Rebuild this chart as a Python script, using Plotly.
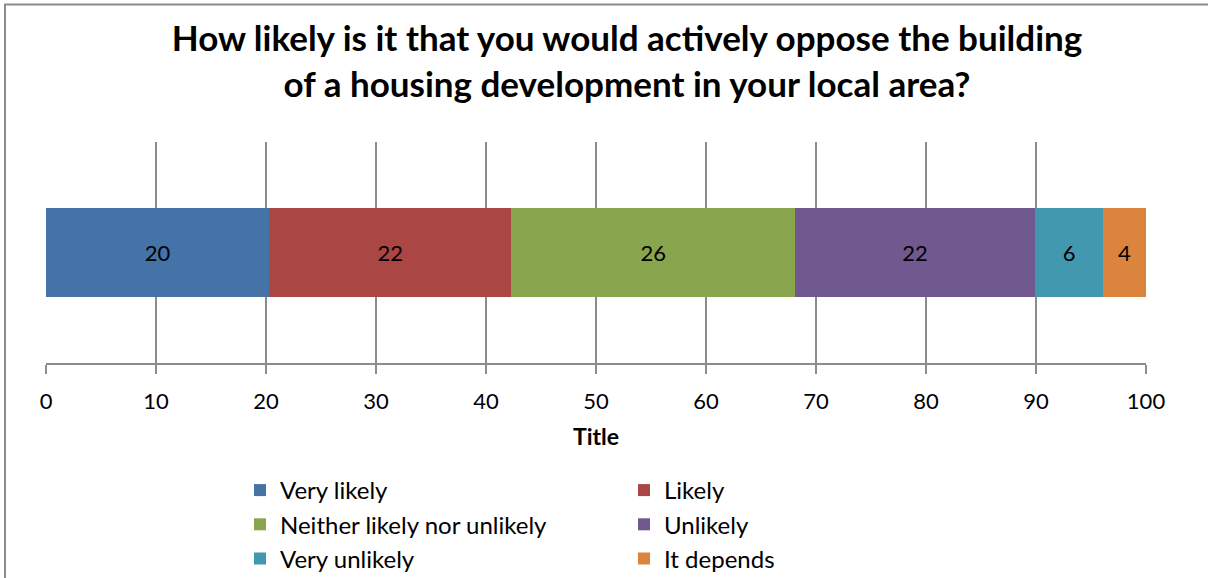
import plotly.graph_objects as go

# Survey responses (percent of respondents)
categories = [
    "Very likely",
    "Likely",
    "Neither likely nor unlikely",
    "Unlikely",
    "Very unlikely",
    "It depends",
]
values = [20.3, 22.0, 25.8, 21.8, 6.2, 3.9]
colors = ["#4572A7", "#AA4643", "#89A54E", "#71588F", "#4198AF", "#DB843D"]
tick_values = [0, 10, 20, 30, 40, 50, 60, 70, 80, 90, 100]

FONT = "Lato, Open Sans, sans-serif"
GRID = "#8C8C8C"

W, H = 1208, 578
ML, MR, MT, MB = 46, 62, 142, 215
PW, PH = W - ML - MR, H - MT - MB

fig = go.Figure()
for name, val, col in zip(categories, values, colors):
    fig.add_trace(go.Bar(
        y=[""], x=[val], name=name, orientation="h",
        marker=dict(color=col, line=dict(width=0)),
        width=0.405,
        text=[val], texttemplate="%{x:.0f}", textposition="inside",
        insidetextanchor="middle",
        textfont=dict(family=FONT, size=22, color="#000000"),
        hoverinfo="name+x",
    ))

def px_x(p):
    return (p - ML) / PW

def px_y(p):
    return (H - MB - p) / PH

fig.update_layout(
    width=W, height=H,
    margin=dict(l=ML, r=MR, t=MT, b=MB, pad=0, autoexpand=False),
    barmode="stack",
    paper_bgcolor="white", plot_bgcolor="white",
    font=dict(family=FONT, color="#000000"),
    title=dict(
        text="<b>How likely is it that you would actively oppose the building<br>of a housing development in your local area?</b>",
        xref="container", x=627 / W, xanchor="center",
        yref="container", y=1 - 51 / H, yanchor="middle",
        font=dict(family=FONT, size=35, color="#000000"),
    ),
    xaxis=dict(
        range=[0, 100], tickvals=tick_values,
        showgrid=True, gridcolor=GRID, gridwidth=1.5,
        zeroline=False,
        showline=True, linecolor=GRID, linewidth=1.5,
        ticks="outside", ticklen=9, tickcolor=GRID, tickwidth=1.5,
        ticklabelstandoff=9,
        tickfont=dict(family=FONT, size=22, color="#000000"),
        title=dict(text="<b>Title</b>", font=dict(family=FONT, size=23, color="#000000"), standoff=16),
        automargin=False,
        fixedrange=True,
    ),
    yaxis=dict(
        range=[-0.5, 0.5], showgrid=False, zeroline=False, showline=False,
        showticklabels=False, ticks="", automargin=False, fixedrange=True,
    ),
    legend=dict(
        orientation="h",
        x=px_x(240), xanchor="left",
        y=px_y(468), yanchor="top",
        entrywidth=339, entrywidthmode="pixels",
        font=dict(family=FONT, size=24, color="#000000"),
        traceorder="normal",
        itemclick=False, itemdoubleclick=False,
        tracegroupgap=0,
    ),
    showlegend=True,
    shapes=[
        dict(
            type="rect", xref="paper", yref="paper",
            x0=px_x(5), x1=px_x(1230), y0=px_y(600), y1=px_y(4.5),
            line=dict(color="#8C8C8C", width=2), fillcolor="rgba(0,0,0,0)",
            layer="above",
        )
    ],
)

fig.write_html("out.html")
